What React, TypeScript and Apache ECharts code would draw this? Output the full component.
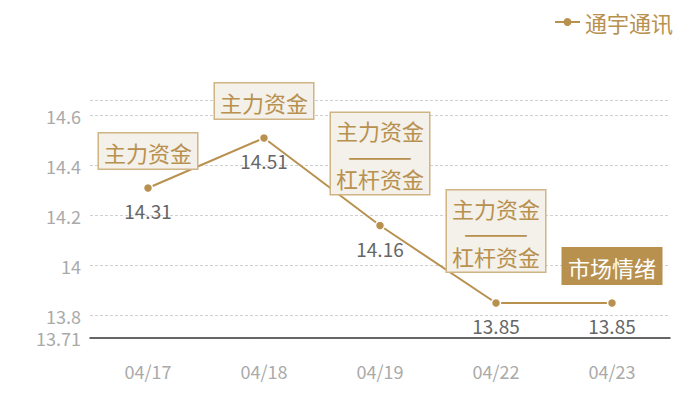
import { useEffect, useRef } from "react";
import * as echarts from "echarts";

const categories = ["04/17", "04/18", "04/19", "04/22", "04/23"];
const prices = [14.31, 14.51, 14.16, 13.85, 13.85];
const notes = ["主力资金", "主力资金", "主力资金\n{sep|———}\n杠杆资金", "主力资金\n{sep|———}\n杠杆资金", "市场情绪"];
const noteFilled = [false, false, false, false, true];
const yLabels = [13.71, 13.8, 14, 14.2, 14.4, 14.6];
const yGrid = [13.8, 14, 14.2, 14.4, 14.6, 14.662];
const seriesName = "通宇通讯";

const GOLD = "#b8914f";
const FONT = "'Noto Sans CJK SC', 'Noto Sans', sans-serif";

export default function App() {
  const chartRef = useRef<HTMLDivElement>(null);

  useEffect(() => {
    if (!chartRef.current) return;
    const chart = echarts.init(chartRef.current, null, { renderer: "svg" });

    const option = {
      animation: false,
      textStyle: { fontFamily: FONT },
      legend: {
        data: [seriesName],
        right: 22,
        top: 6,
        itemWidth: 25,
        itemHeight: 10,
        itemGap: 6,
        itemStyle: { borderWidth: 0 },
        textStyle: { color: GOLD, fontSize: 22, fontFamily: FONT }
      },
      grid: { left: 90, right: 30, top: 100, bottom: 62 },
      xAxis: {
        type: "category",
        data: categories,
        axisLine: { lineStyle: { color: "#333", width: 1.5 } },
        axisTick: { show: false },
        axisLabel: { color: "#aaa", fontSize: 18, margin: 24, fontFamily: FONT }
      },
      yAxis: {
        type: "value",
        min: 13.71,
        max: 14.662,
        axisLine: { show: false },
        axisTick: { show: false, customValues: yGrid },
        axisLabel: {
          color: "#aaa",
          fontSize: 18,
          margin: 9,
          fontFamily: FONT,
          customValues: yLabels,
          formatter: (v: number) => String(+v.toFixed(2))
        },
        splitLine: { show: true, lineStyle: { color: "#d0d0d0", type: [3, 2], width: 1 } }
      },
      series: [
        {
          name: seriesName,
          type: "line",
          data: prices,
          symbol: "circle",
          symbolSize: 9,
          itemStyle: { color: GOLD, borderColor: "#fff", borderWidth: 1.5 },
          lineStyle: { color: GOLD, width: 2 },
          label: {
            show: true,
            position: "bottom",
            distance: 8,
            color: "#666",
            fontSize: 19,
            fontFamily: FONT
          },
          z: 2
        },
        {
          name: "notes",
          type: "scatter",
          symbolSize: 1,
          itemStyle: { color: "rgba(0,0,0,0)", opacity: 1 },
          silent: true,
          z: 5,
          data: prices.map((v, i) => {
            const multi = notes[i].includes("\n");
            const filled = noteFilled[i];
            return {
              value: v,
              label: {
                show: true,
                position: "top",
                distance: multi ? 31 : 19,
                formatter: notes[i],
                fontSize: 22,
                lineHeight: multi ? 24 : 26,
                fontFamily: FONT,
                align: "center",
                color: filled ? "#fff" : GOLD,
                backgroundColor: filled ? GOLD : "#f4f0ea",
                borderColor: filled ? GOLD : "#cfb484",
                borderWidth: 1.5,
                padding: [5, 5, 4, 5],
                rich: {
                  sep: { fontSize: 26, lineHeight: 24, color: GOLD, fontFamily: FONT }
                }
              }
            };
          })
        }
      ]
    };

    chart.setOption(option);
    return () => chart.dispose();
  }, []);

  return <div ref={chartRef} style={{ width: 700, height: 400, margin: -8 }} />;
}
